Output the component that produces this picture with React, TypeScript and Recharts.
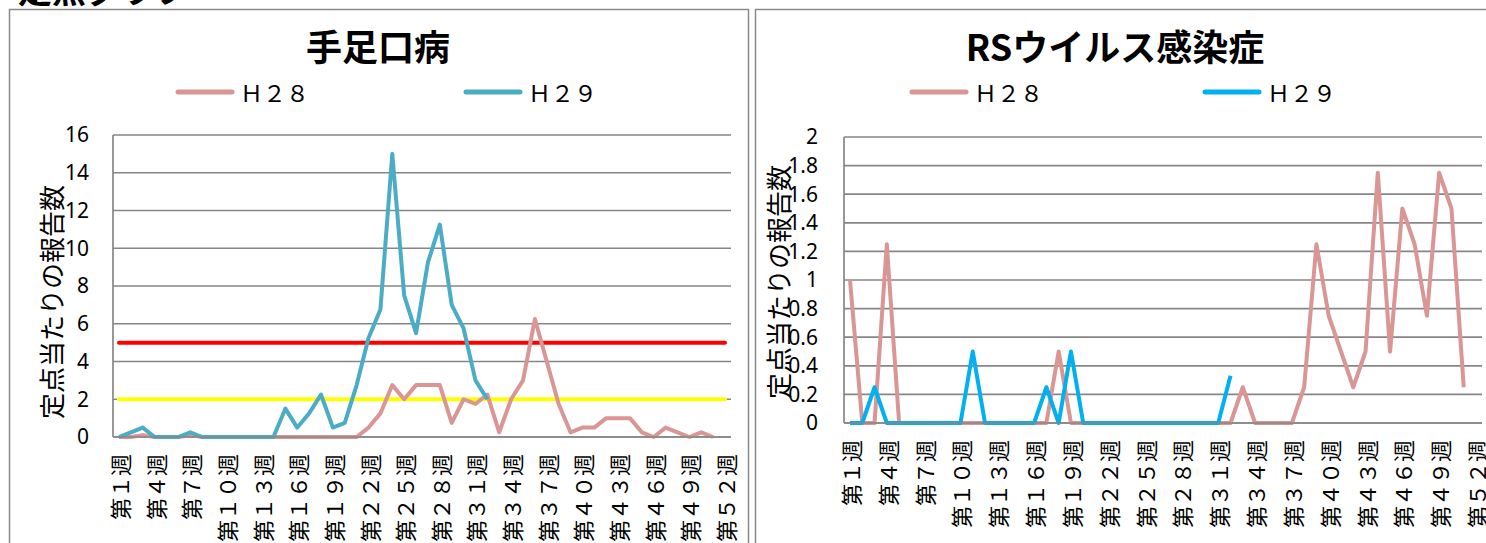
import { LineChart, Line, XAxis, YAxis, CartesianGrid, ReferenceLine } from 'recharts';

// 週ラベル（第１週〜第５２週、全角数字）
const toFullWidth = (n: number) => String(n).replace(/[0-9]/g, (d) => String.fromCharCode(0xff10 + Number(d)));
const weeks = Array.from({ length: 52 }, (_, i) => `第${toFullWidth(i + 1)}週`);

// 手足口病 定点当たり報告数
const hfmdH28 = [
  0, 0, 0.1, 0, 0, 0, 0.1, 0, 0, 0, 0, 0, 0, 0, 0, 0, 0, 0, 0, 0, 0,
  0.5, 1.25, 2.75, 2, 2.75, 2.75, 2.75, 0.75, 2, 1.75, 2.25, 0.25, 2, 3, 6.25, 4, 1.75,
  0.25, 0.5, 0.5, 1, 1, 1, 0.25, 0, 0.5, 0.25, 0, 0.25, 0,
];
const hfmdH29 = [
  0, 0.25, 0.5, 0, 0, 0, 0.25, 0, 0, 0, 0, 0, 0, 0,
  1.5, 0.5, 1.25, 2.25, 0.5, 0.75, 2.75, 5.25, 6.75, 15, 7.5, 5.5, 9.25, 11.25, 7, 5.75, 3, 2,
];

// RSウイルス感染症 定点当たり報告数
const rsvH28 = [
  1, 0, 0, 1.25, 0, 0, 0, 0, 0, 0, 0, 0, 0, 0, 0, 0, 0, 0.5,
  0, 0, 0, 0, 0, 0, 0, 0, 0, 0, 0, 0, 0, 0, 0.25, 0, 0, 0, 0,
  0.25, 1.25, 0.75, 0.5, 0.25, 0.5, 1.75, 0.5, 1.5, 1.25, 0.75, 1.75, 1.5, 0.25,
];
const rsvH29 = [
  0, 0, 0.25, 0, 0, 0, 0, 0, 0, 0, 0.5, 0, 0, 0, 0, 0, 0.25, 0, 0.5,
  0, 0, 0, 0, 0, 0, 0, 0, 0, 0, 0, 0, 0.33,
];

const hfmdTicks = [0, 2, 4, 6, 8, 10, 12, 14, 16];
const rsvTicks = [0, 0.2, 0.4, 0.6, 0.8, 1, 1.2, 1.4, 1.6, 1.8, 2];

// 警報・注意報レベル
const hfmdAlert = 5;
const hfmdNotice = 2;

const PINK = '#D99694';
const TEAL = '#4BACC6';
const CYAN = '#00B0F0';
const GRID = '#868686';
const JP = "'Noto Sans CJK JP', 'Noto Sans', sans-serif";
const NUM = "'Noto Sans', 'DejaVu Sans', sans-serif";

function buildRows(a: number[], b: number[]) {
  return weeks.map((week, i) => ({ week, H28: a[i] ?? null, H29: b[i] ?? null }));
}

const hfmdData = buildRows(hfmdH28, hfmdH29);
const rsvData = buildRows(rsvH28, rsvH29);

function WeekTick({ x, y, payload }: any) {
  const ty = y + 17;
  return (
    <text
      x={x}
      y={ty}
      transform={`rotate(-90 ${x} ${ty})`}
      textAnchor="end"
      dominantBaseline="central"
      fontSize={22}
      fontFamily={JP}
      fill="#000"
    >
      {payload.value}
    </text>
  );
}

function Legend({ x1, x2, y, color2 }: { x1: number; x2: number; y: number; color2: string }) {
  return (
    <g>
      <line x1={x1} x2={x1 + 54} y1={y} y2={y} stroke={PINK} strokeWidth={5} strokeLinecap="round" />
      <text x={x1 + 62} y={y} dominantBaseline="central" fontSize={23} fontFamily={JP} fill="#000">Ｈ２８</text>
      <line x1={x2} x2={x2 + 54} y1={y} y2={y} stroke={color2} strokeWidth={5} strokeLinecap="round" />
      <text x={x2 + 62} y={y} dominantBaseline="central" fontSize={23} fontFamily={JP} fill="#000">Ｈ２９</text>
    </g>
  );
}

function YLabel({ x, y }: { x: number; y: number }) {
  return (
    <text
      x={x}
      y={y}
      transform={`rotate(-90 ${x} ${y})`}
      textAnchor="middle"
      dominantBaseline="central"
      fontSize={26}
      fontFamily={JP}
      fill="#000"
    >
      定点当たりの報告数
    </text>
  );
}

export default function App() {
  const yTick = { fontSize: 21, fill: '#000', fontFamily: NUM };
  return (
    <div style={{ position: 'absolute', left: 0, top: 0, width: 1486, height: 543, overflow: 'hidden', background: '#fff' }}>
      <div style={{ position: 'absolute', left: 0, top: 0 }}>
        <LineChart width={748} height={543} data={hfmdData} margin={{ top: 135, right: 17, bottom: 0, left: 0 }}>
          <CartesianGrid vertical={false} stroke={GRID} strokeWidth={1.7} />
          <XAxis
            dataKey="week"
            interval={2}
            height={106}
            tickLine={false}
            tickSize={0}
            tickMargin={0}
            padding={{ left: 6, right: 6 }}
            axisLine={{ stroke: GRID, strokeWidth: 1.7 }}
            tick={<WeekTick />}
          />
          <YAxis
            type="number"
            domain={[0, 16]}
            ticks={hfmdTicks}
            interval={0}
            width={113}
            tickLine={false}
            tickSize={0}
            tickMargin={24}
            axisLine={{ stroke: GRID, strokeWidth: 1.7 }}
            tick={yTick}
          />
          <ReferenceLine
            segment={[{ x: weeks[0], y: hfmdAlert }, { x: weeks[51], y: hfmdAlert }]}
            stroke="#FF0000"
            strokeWidth={4}
            strokeLinecap="round"
          />
          <ReferenceLine
            segment={[{ x: weeks[0], y: hfmdNotice }, { x: weeks[51], y: hfmdNotice }]}
            stroke="#FFFF00"
            strokeWidth={4}
            strokeLinecap="round"
          />
          <Line type="linear" dataKey="H28" stroke={PINK} strokeWidth={4} dot={false} strokeLinejoin="round" isAnimationActive={false} />
          <Line type="linear" dataKey="H29" stroke={TEAL} strokeWidth={4} dot={false} strokeLinejoin="round" isAnimationActive={false} />
        </LineChart>
      </div>

      <div style={{ position: 'absolute', left: 755, top: 0 }}>
        <LineChart width={731} height={543} data={rsvData} margin={{ top: 137, right: 4, bottom: 0, left: 0 }}>
          <CartesianGrid vertical={false} stroke={GRID} strokeWidth={1.7} />
          <XAxis
            dataKey="week"
            interval={2}
            height={120}
            tickLine={false}
            tickSize={0}
            tickMargin={0}
            padding={{ left: 6, right: 6 }}
            axisLine={{ stroke: GRID, strokeWidth: 1.7 }}
            tick={<WeekTick />}
          />
          <YAxis
            type="number"
            domain={[0, 2]}
            ticks={rsvTicks}
            interval={0}
            width={89}
            tickLine={false}
            tickSize={0}
            tickMargin={26}
            axisLine={{ stroke: GRID, strokeWidth: 1.7 }}
            tick={yTick}
          />
          <Line type="linear" dataKey="H28" stroke={PINK} strokeWidth={4} dot={false} strokeLinejoin="round" isAnimationActive={false} />
          <Line type="linear" dataKey="H29" stroke={CYAN} strokeWidth={4} dot={false} strokeLinejoin="round" isAnimationActive={false} />
        </LineChart>
      </div>

      <svg width={1486} height={543} style={{ position: 'absolute', left: 0, top: 0, pointerEvents: 'none' }}>
        <text x={18} y={3} fontSize={34} fontWeight="bold" fontFamily={JP} fill="#000">定点グラフ</text>
        <rect x={9.5} y={9.5} width={739} height={600} fill="none" stroke="#8a8a8a" strokeWidth={1.5} />
        <rect x={755.5} y={9.5} width={800} height={600} fill="none" stroke="#8a8a8a" strokeWidth={1.5} />

        <text x={378} y={45} textAnchor="middle" dominantBaseline="central" fontSize={36} fontWeight="bold" fontFamily={JP} fill="#000">手足口病</text>
        <Legend x1={178} x2={466} y={92} color2={TEAL} />
        <YLabel x={50} y={302} />

        <text x={1115} y={45} textAnchor="middle" dominantBaseline="central" fontSize={36} fontWeight="bold" fontFamily={JP} fill="#000">RSウイルス感染症</text>
        <Legend x1={912} x2={1205} y={92} color2={CYAN} />
        <YLabel x={777} y={282} />
      </svg>
    </div>
  );
}
